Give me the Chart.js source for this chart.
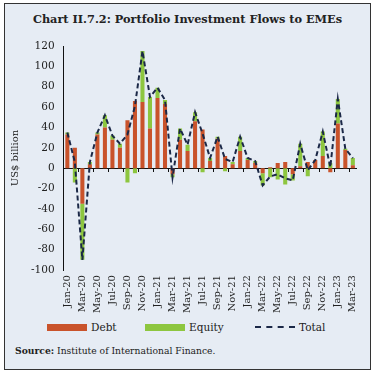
<!DOCTYPE html>
<html><head><meta charset="utf-8">
<script src="https://cdn.jsdelivr.net/npm/chart.js@4.4.0/dist/chart.umd.min.js"></script>
<style>
html,body{margin:0;padding:0;background:#fff;}
#frame{position:absolute;left:4px;top:3px;width:365px;height:365px;border:1px solid #333;background:#E6ECF4;overflow:hidden;font-family:'DejaVu Serif',serif;color:#222;}
#title{position:absolute;top:8px;left:0;width:100%;text-align:center;font-weight:bold;font-size:11.3px;}
#wrap{position:absolute;left:0;top:25px;width:365px;height:291px;}
#legend{position:absolute;left:0;top:316px;width:365px;height:14px;font-size:10.5px;}
.li{position:absolute;top:0;height:14px;line-height:14px;white-space:nowrap;}
.sw{position:absolute;top:3.5px;left:0;width:40px;height:7px;}
.dash{position:absolute;top:6px;left:0;width:40px;height:0;border-top:2px dashed #1B2847;}
.lt{position:absolute;left:44px;top:0;}
#src{position:absolute;left:10px;top:341px;font-size:9.2px;}
</style></head>
<body>
<div id="frame">
<div id="title">Chart II.7.2: Portfolio Investment Flows to EMEs</div>
<div id="wrap"><canvas id="c" width="365" height="291"></canvas></div>
<div id="legend"></div>
<div id="src"><b>Source:</b> Institute of International Finance.</div>
</div>
<script>
const categories = ['Jan-20','Feb-20','Mar-20','Apr-20','May-20','Jun-20','Jul-20','Aug-20','Sep-20','Oct-20','Nov-20','Dec-20',
 'Jan-21','Feb-21','Mar-21','Apr-21','May-21','Jun-21','Jul-21','Aug-21','Sep-21','Oct-21','Nov-21','Dec-21',
 'Jan-22','Feb-22','Mar-22','Apr-22','May-22','Jun-22','Jul-22','Aug-22','Sep-22','Oct-22','Nov-22','Dec-22',
 'Jan-23','Feb-23','Mar-23'];
const debt   = [33, 20, -35, 4, 33, 40, 28, 20, 47, 66, 65, 39, 69, 63, -6, 28, 17, 46, 38, 7, 29, 12, 4, 17, 8, 5, -5, 1, 5, 6, -6, 2, 6, 8, 12, -4, 44, 18, 3];
const equity = [2, -14, -55, 2, 2, 12, 4, 4, -14, -5, 50, 31, 10, 4, -3, 11, 6, 9, -4, 3, 2, -3, 2, 14, 2, 2, -12, -9, -11, -16, -6, 22, -8, 0, 24, 5, 24, 1, 7];
const total  = [35, 6, -90, 6, 35, 52, 32, 24, 33, 61, 115, 70, 79, 67, -9, 39, 23, 55, 34, 10, 31, 9, 6, 31, 10, 7, -17, -8, -6, -10, -12, 24, -2, 8, 36, 1, 68, 19, 10];
const yTicks = {min: -100, max: 120, step: 20};
const seriesNames = ['Debt', 'Equity', 'Total'];
const seriesColors = ['#C9532B', '#8DC63F', '#1B2847'];

Chart.defaults.font.family = "'DejaVu Serif', serif";
Chart.defaults.font.size = 10;
Chart.defaults.color = '#222';

const chart = new Chart(document.getElementById('c'), {
  data: {
    labels: categories,
    datasets: [
      {type:'bar', label:seriesNames[0], data: debt, backgroundColor:seriesColors[0], stack:'bars', order:1,
       categoryPercentage:0.6, barPercentage:0.9},
      {type:'bar', label:seriesNames[1], data: equity, backgroundColor:seriesColors[1], stack:'bars', order:1,
       categoryPercentage:0.6, barPercentage:0.9},
      {type:'line', label:seriesNames[2], data: total, borderColor:seriesColors[2], backgroundColor:seriesColors[2], borderWidth:2,
       borderDash:[5,3], pointRadius:0, tension:0, stack:'line', order:0}
    ]
  },
  options: {
    responsive:false, animation:false,
    layout:{padding:{top:17, right:13, left:4, bottom:2}},
    plugins:{ legend:{display:false}, tooltip:{enabled:false} },
    scales:{
      x:{type:'category', position:'bottom', stacked:true, offset:true,
        grid:{display:false, drawTicks:false}, border:{display:false},
        ticks:{autoSkip:false, minRotation:90, maxRotation:90, padding:5, font:{size:10},
          callback:function(v,i){ return i%2===0 ? this.getLabelForValue(v) : ''; }}},
      xz:{type:'category', position:{y:0}, offset:true,
        grid:{offset:true, drawOnChartArea:false, drawTicks:true, tickLength:3,
          tickColor:(ctx)=> (ctx.index%2===0 ? '#111' : 'rgba(0,0,0,0)')},
        border:{display:true, color:'#111', width:1},
        ticks:{display:false}},
      y:{type:'linear', stacked:true, min:yTicks.min, max:yTicks.max,
        grid:{display:false, drawTicks:true, tickLength:3, tickColor:'#111'},
        border:{display:true, color:'#111', width:1},
        ticks:{stepSize:yTicks.step, padding:6, font:{size:10.5}},
        title:{display:true, text:'US$ billion', font:{size:10}, padding:{top:0,bottom:4}}}
    }
  }
});

// HTML legend built from the series names/colours
const lg = document.getElementById('legend');
const lefts = [42, 140, 250];
seriesNames.forEach((n, i) => {
  const d = document.createElement('div');
  d.className = 'li';
  d.style.left = lefts[i] + 'px';
  const s = document.createElement('div');
  if (i < 2) { s.className = 'sw'; s.style.background = seriesColors[i]; }
  else { s.className = 'dash'; }
  const t = document.createElement('span');
  t.className = 'lt'; t.textContent = n;
  d.appendChild(s); d.appendChild(t); lg.appendChild(d);
});
</script>
</body></html>
